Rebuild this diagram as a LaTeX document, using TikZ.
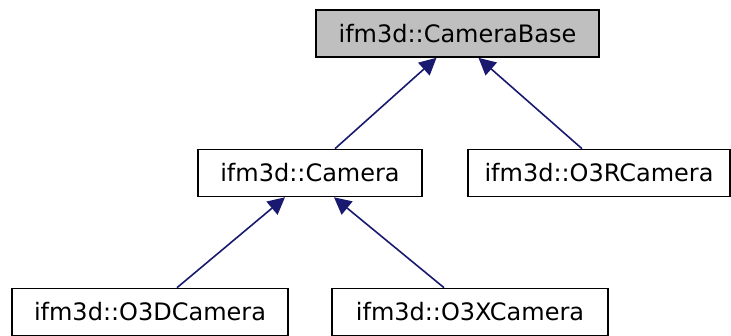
\documentclass[tikz,border=0pt]{standalone}
\usepackage{fontspec}
\setmainfont{DejaVu Sans}
\usetikzlibrary{arrows.meta}
\definecolor{edgeblue}{RGB}{25,25,112}
\definecolor{basegray}{RGB}{191,191,191}

\begin{document}
\begin{tikzpicture}[x=1pt,y=-1pt,
    cls/.style={draw=black,line width=1.6pt,fill=white,minimum height=47pt,
      inner sep=0pt,font=\fontsize{24}{28}\selectfont},
    inherit/.style={edgeblue,line width=1.6pt,-{Triangle[length=17pt,width=17pt]}}]
  \useasboundingbox (0,0) rectangle (731,336);
  % class boxes
  \node[cls,fill=basegray,minimum width=283pt] (base) at (457.5,33.5) {ifm3d::CameraBase};
  \node[cls,minimum width=224pt] (cam) at (310,173) {ifm3d::Camera};
  \node[cls,minimum width=262pt] (o3r) at (599,173) {ifm3d::O3RCamera};
  \node[cls,minimum width=276pt] (o3d) at (150,312) {ifm3d::O3DCamera};
  \node[cls,minimum width=276pt] (o3x) at (470,312) {ifm3d::O3XCamera};
  % inheritance arrows (child -> parent)
  \draw[inherit] ([xshift=25pt]cam.north) -- ([xshift=-21pt]base.south);
  \draw[inherit] ([xshift=-17pt]o3r.north) -- ([xshift=21pt]base.south);
  \draw[inherit] ([xshift=27pt]o3d.north) -- ([xshift=-25pt]cam.south);
  \draw[inherit] ([xshift=-26pt]o3x.north) -- ([xshift=24pt]cam.south);
\end{tikzpicture}
\end{document}
